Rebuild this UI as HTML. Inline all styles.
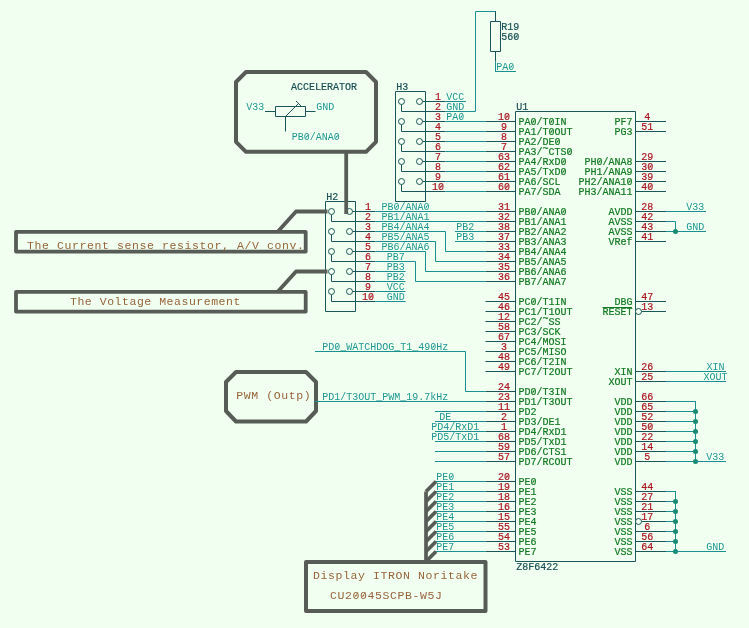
<!DOCTYPE html>
<html><head><meta charset="utf-8"><title>Schematic</title>
<style>
html,body{margin:0;padding:0;background:#f0fff0;}
body{width:749px;height:628px;overflow:hidden;}
svg{display:block;will-change:transform;transform:translateZ(0);}
text{font-family:"Liberation Mono",monospace;white-space:pre;}
.t{font-size:10px;stroke-width:0.2px;}
.b{font-size:11.5px;letter-spacing:0.6px;stroke-width:0px;}
</style></head><body>
<svg width="749" height="628" viewBox="0 0 749 628">
<rect x="0" y="0" width="749" height="628" fill="#f0fff0"/>
<rect x="515.5" y="111.5" width="120" height="450" fill="none" stroke="#1b5658" stroke-width="1" stroke-linejoin="round"/>
<text x="516.3" y="110" fill="#1b5054" stroke="#1b5054" text-anchor="start" class="t">U1</text>
<text x="516.3" y="570" fill="#1b5054" stroke="#1b5054" text-anchor="start" class="t">Z8F6422</text>
<line x1="485.5" y1="121.5" x2="515.5" y2="121.5" stroke="#1b5658" stroke-width="1"/>
<line x1="505.75" y1="118.60" x2="508.25" y2="114.80" stroke="#aa1622" stroke-width="0.7"/>
<text x="504" y="120" fill="#aa1622" stroke="#aa1622" text-anchor="middle" class="t">10</text>
<line x1="532.25" y1="123.40" x2="534.75" y2="119.60" stroke="#137a22" stroke-width="0.7"/>
<line x1="550.25" y1="123.40" x2="552.75" y2="119.60" stroke="#137a22" stroke-width="0.7"/>
<text x="518.5" y="124.8" fill="#137a22" stroke="#137a22" text-anchor="start" class="t">PA0/T0IN</text>
<line x1="485.5" y1="131.5" x2="515.5" y2="131.5" stroke="#1b5658" stroke-width="1"/>
<text x="504" y="130" fill="#aa1622" stroke="#aa1622" text-anchor="middle" class="t">9</text>
<line x1="550.25" y1="133.40" x2="552.75" y2="129.60" stroke="#137a22" stroke-width="0.7"/>
<text x="518.5" y="134.8" fill="#137a22" stroke="#137a22" text-anchor="start" class="t">PA1/T0OUT</text>
<line x1="485.5" y1="141.5" x2="515.5" y2="141.5" stroke="#1b5658" stroke-width="1"/>
<text x="504" y="140" fill="#aa1622" stroke="#aa1622" text-anchor="middle" class="t">8</text>
<line x1="556.25" y1="143.40" x2="558.75" y2="139.60" stroke="#137a22" stroke-width="0.7"/>
<text x="518.5" y="144.8" fill="#137a22" stroke="#137a22" text-anchor="start" class="t">PA2/DE0</text>
<line x1="485.5" y1="151.5" x2="515.5" y2="151.5" stroke="#1b5658" stroke-width="1"/>
<text x="504" y="150" fill="#aa1622" stroke="#aa1622" text-anchor="middle" class="t">7</text>
<line x1="568.25" y1="153.40" x2="570.75" y2="149.60" stroke="#137a22" stroke-width="0.7"/>
<text x="518.5" y="154.8" fill="#137a22" stroke="#137a22" text-anchor="start" class="t">PA3/<tspan dy="-2.6">~</tspan><tspan dy="2.6">CTS0</tspan></text>
<line x1="485.5" y1="161.5" x2="515.5" y2="161.5" stroke="#1b5658" stroke-width="1"/>
<text x="504" y="160" fill="#aa1622" stroke="#aa1622" text-anchor="middle" class="t">63</text>
<line x1="562.25" y1="163.40" x2="564.75" y2="159.60" stroke="#137a22" stroke-width="0.7"/>
<text x="518.5" y="164.8" fill="#137a22" stroke="#137a22" text-anchor="start" class="t">PA4/RxD0</text>
<line x1="485.5" y1="171.5" x2="515.5" y2="171.5" stroke="#1b5658" stroke-width="1"/>
<text x="504" y="170" fill="#aa1622" stroke="#aa1622" text-anchor="middle" class="t">62</text>
<line x1="562.25" y1="173.40" x2="564.75" y2="169.60" stroke="#137a22" stroke-width="0.7"/>
<text x="518.5" y="174.8" fill="#137a22" stroke="#137a22" text-anchor="start" class="t">PA5/TxD0</text>
<line x1="485.5" y1="181.5" x2="515.5" y2="181.5" stroke="#1b5658" stroke-width="1"/>
<text x="504" y="180" fill="#aa1622" stroke="#aa1622" text-anchor="middle" class="t">61</text>
<text x="518.5" y="184.8" fill="#137a22" stroke="#137a22" text-anchor="start" class="t">PA6/SCL</text>
<line x1="485.5" y1="191.5" x2="515.5" y2="191.5" stroke="#1b5658" stroke-width="1"/>
<line x1="505.75" y1="188.60" x2="508.25" y2="184.80" stroke="#aa1622" stroke-width="0.7"/>
<text x="504" y="190" fill="#aa1622" stroke="#aa1622" text-anchor="middle" class="t">60</text>
<text x="518.5" y="194.8" fill="#137a22" stroke="#137a22" text-anchor="start" class="t">PA7/SDA</text>
<line x1="485.5" y1="211.5" x2="515.5" y2="211.5" stroke="#1b5658" stroke-width="1"/>
<text x="504" y="210" fill="#aa1622" stroke="#aa1622" text-anchor="middle" class="t">31</text>
<line x1="532.25" y1="213.40" x2="534.75" y2="209.60" stroke="#137a22" stroke-width="0.7"/>
<line x1="562.25" y1="213.40" x2="564.75" y2="209.60" stroke="#137a22" stroke-width="0.7"/>
<text x="518.5" y="214.8" fill="#137a22" stroke="#137a22" text-anchor="start" class="t">PB0/ANA0</text>
<line x1="485.5" y1="221.5" x2="515.5" y2="221.5" stroke="#1b5658" stroke-width="1"/>
<text x="504" y="220" fill="#aa1622" stroke="#aa1622" text-anchor="middle" class="t">32</text>
<text x="518.5" y="224.8" fill="#137a22" stroke="#137a22" text-anchor="start" class="t">PB1/ANA1</text>
<line x1="485.5" y1="231.5" x2="515.5" y2="231.5" stroke="#1b5658" stroke-width="1"/>
<text x="504" y="230" fill="#aa1622" stroke="#aa1622" text-anchor="middle" class="t">38</text>
<text x="518.5" y="234.8" fill="#137a22" stroke="#137a22" text-anchor="start" class="t">PB2/ANA2</text>
<line x1="485.5" y1="241.5" x2="515.5" y2="241.5" stroke="#1b5658" stroke-width="1"/>
<text x="504" y="240" fill="#aa1622" stroke="#aa1622" text-anchor="middle" class="t">37</text>
<text x="518.5" y="244.8" fill="#137a22" stroke="#137a22" text-anchor="start" class="t">PB3/ANA3</text>
<line x1="485.5" y1="251.5" x2="515.5" y2="251.5" stroke="#1b5658" stroke-width="1"/>
<text x="504" y="250" fill="#aa1622" stroke="#aa1622" text-anchor="middle" class="t">33</text>
<text x="518.5" y="254.8" fill="#137a22" stroke="#137a22" text-anchor="start" class="t">PB4/ANA4</text>
<line x1="485.5" y1="261.5" x2="515.5" y2="261.5" stroke="#1b5658" stroke-width="1"/>
<text x="504" y="260" fill="#aa1622" stroke="#aa1622" text-anchor="middle" class="t">34</text>
<text x="518.5" y="264.8" fill="#137a22" stroke="#137a22" text-anchor="start" class="t">PB5/ANA5</text>
<line x1="485.5" y1="271.5" x2="515.5" y2="271.5" stroke="#1b5658" stroke-width="1"/>
<text x="504" y="270" fill="#aa1622" stroke="#aa1622" text-anchor="middle" class="t">35</text>
<text x="518.5" y="274.8" fill="#137a22" stroke="#137a22" text-anchor="start" class="t">PB6/ANA6</text>
<line x1="485.5" y1="281.5" x2="515.5" y2="281.5" stroke="#1b5658" stroke-width="1"/>
<text x="504" y="280" fill="#aa1622" stroke="#aa1622" text-anchor="middle" class="t">36</text>
<text x="518.5" y="284.8" fill="#137a22" stroke="#137a22" text-anchor="start" class="t">PB7/ANA7</text>
<line x1="485.5" y1="301.5" x2="515.5" y2="301.5" stroke="#1b5658" stroke-width="1"/>
<text x="504" y="300" fill="#aa1622" stroke="#aa1622" text-anchor="middle" class="t">45</text>
<line x1="532.25" y1="303.40" x2="534.75" y2="299.60" stroke="#137a22" stroke-width="0.7"/>
<text x="518.5" y="304.8" fill="#137a22" stroke="#137a22" text-anchor="start" class="t">PC0/T1IN</text>
<line x1="485.5" y1="311.5" x2="515.5" y2="311.5" stroke="#1b5658" stroke-width="1"/>
<text x="504" y="310" fill="#aa1622" stroke="#aa1622" text-anchor="middle" class="t">46</text>
<text x="518.5" y="314.8" fill="#137a22" stroke="#137a22" text-anchor="start" class="t">PC1/T1OUT</text>
<line x1="485.5" y1="321.5" x2="515.5" y2="321.5" stroke="#1b5658" stroke-width="1"/>
<text x="504" y="320" fill="#aa1622" stroke="#aa1622" text-anchor="middle" class="t">12</text>
<text x="518.5" y="324.8" fill="#137a22" stroke="#137a22" text-anchor="start" class="t">PC2/<tspan dy="-2.6">~</tspan><tspan dy="2.6">SS</tspan></text>
<line x1="485.5" y1="331.5" x2="515.5" y2="331.5" stroke="#1b5658" stroke-width="1"/>
<text x="504" y="330" fill="#aa1622" stroke="#aa1622" text-anchor="middle" class="t">58</text>
<text x="518.5" y="334.8" fill="#137a22" stroke="#137a22" text-anchor="start" class="t">PC3/SCK</text>
<line x1="485.5" y1="341.5" x2="515.5" y2="341.5" stroke="#1b5658" stroke-width="1"/>
<text x="504" y="340" fill="#aa1622" stroke="#aa1622" text-anchor="middle" class="t">67</text>
<text x="518.5" y="344.8" fill="#137a22" stroke="#137a22" text-anchor="start" class="t">PC4/MOSI</text>
<line x1="485.5" y1="351.5" x2="515.5" y2="351.5" stroke="#1b5658" stroke-width="1"/>
<text x="504" y="350" fill="#aa1622" stroke="#aa1622" text-anchor="middle" class="t">3</text>
<text x="518.5" y="354.8" fill="#137a22" stroke="#137a22" text-anchor="start" class="t">PC5/MISO</text>
<line x1="485.5" y1="361.5" x2="515.5" y2="361.5" stroke="#1b5658" stroke-width="1"/>
<text x="504" y="360" fill="#aa1622" stroke="#aa1622" text-anchor="middle" class="t">48</text>
<text x="518.5" y="364.8" fill="#137a22" stroke="#137a22" text-anchor="start" class="t">PC6/T2IN</text>
<line x1="485.5" y1="371.5" x2="515.5" y2="371.5" stroke="#1b5658" stroke-width="1"/>
<text x="504" y="370" fill="#aa1622" stroke="#aa1622" text-anchor="middle" class="t">49</text>
<text x="518.5" y="374.8" fill="#137a22" stroke="#137a22" text-anchor="start" class="t">PC7/T2OUT</text>
<line x1="485.5" y1="391.5" x2="515.5" y2="391.5" stroke="#1b5658" stroke-width="1"/>
<text x="504" y="390" fill="#aa1622" stroke="#aa1622" text-anchor="middle" class="t">24</text>
<line x1="532.25" y1="393.40" x2="534.75" y2="389.60" stroke="#137a22" stroke-width="0.7"/>
<text x="518.5" y="394.8" fill="#137a22" stroke="#137a22" text-anchor="start" class="t">PD0/T3IN</text>
<line x1="485.5" y1="401.5" x2="515.5" y2="401.5" stroke="#1b5658" stroke-width="1"/>
<text x="504" y="400" fill="#aa1622" stroke="#aa1622" text-anchor="middle" class="t">23</text>
<text x="518.5" y="404.8" fill="#137a22" stroke="#137a22" text-anchor="start" class="t">PD1/T3OUT</text>
<line x1="485.5" y1="411.5" x2="515.5" y2="411.5" stroke="#1b5658" stroke-width="1"/>
<text x="504" y="410" fill="#aa1622" stroke="#aa1622" text-anchor="middle" class="t">11</text>
<text x="518.5" y="414.8" fill="#137a22" stroke="#137a22" text-anchor="start" class="t">PD2</text>
<line x1="485.5" y1="421.5" x2="515.5" y2="421.5" stroke="#1b5658" stroke-width="1"/>
<text x="504" y="420" fill="#aa1622" stroke="#aa1622" text-anchor="middle" class="t">2</text>
<text x="518.5" y="424.8" fill="#137a22" stroke="#137a22" text-anchor="start" class="t">PD3/DE1</text>
<line x1="485.5" y1="431.5" x2="515.5" y2="431.5" stroke="#1b5658" stroke-width="1"/>
<text x="504" y="430" fill="#aa1622" stroke="#aa1622" text-anchor="middle" class="t">1</text>
<text x="518.5" y="434.8" fill="#137a22" stroke="#137a22" text-anchor="start" class="t">PD4/RxD1</text>
<line x1="485.5" y1="441.5" x2="515.5" y2="441.5" stroke="#1b5658" stroke-width="1"/>
<text x="504" y="440" fill="#aa1622" stroke="#aa1622" text-anchor="middle" class="t">68</text>
<text x="518.5" y="444.8" fill="#137a22" stroke="#137a22" text-anchor="start" class="t">PD5/TxD1</text>
<line x1="485.5" y1="451.5" x2="515.5" y2="451.5" stroke="#1b5658" stroke-width="1"/>
<text x="504" y="450" fill="#aa1622" stroke="#aa1622" text-anchor="middle" class="t">59</text>
<text x="518.5" y="454.8" fill="#137a22" stroke="#137a22" text-anchor="start" class="t">PD6/CTS1</text>
<line x1="485.5" y1="461.5" x2="515.5" y2="461.5" stroke="#1b5658" stroke-width="1"/>
<text x="504" y="460" fill="#aa1622" stroke="#aa1622" text-anchor="middle" class="t">57</text>
<text x="518.5" y="464.8" fill="#137a22" stroke="#137a22" text-anchor="start" class="t">PD7/RCOUT</text>
<line x1="485.5" y1="481.5" x2="515.5" y2="481.5" stroke="#1b5658" stroke-width="1"/>
<line x1="505.75" y1="478.60" x2="508.25" y2="474.80" stroke="#aa1622" stroke-width="0.7"/>
<text x="504" y="480" fill="#aa1622" stroke="#aa1622" text-anchor="middle" class="t">20</text>
<line x1="532.25" y1="483.40" x2="534.75" y2="479.60" stroke="#137a22" stroke-width="0.7"/>
<text x="518.5" y="484.8" fill="#137a22" stroke="#137a22" text-anchor="start" class="t">PE0</text>
<line x1="485.5" y1="491.5" x2="515.5" y2="491.5" stroke="#1b5658" stroke-width="1"/>
<text x="504" y="490" fill="#aa1622" stroke="#aa1622" text-anchor="middle" class="t">19</text>
<text x="518.5" y="494.8" fill="#137a22" stroke="#137a22" text-anchor="start" class="t">PE1</text>
<line x1="485.5" y1="501.5" x2="515.5" y2="501.5" stroke="#1b5658" stroke-width="1"/>
<text x="504" y="500" fill="#aa1622" stroke="#aa1622" text-anchor="middle" class="t">18</text>
<text x="518.5" y="504.8" fill="#137a22" stroke="#137a22" text-anchor="start" class="t">PE2</text>
<line x1="485.5" y1="511.5" x2="515.5" y2="511.5" stroke="#1b5658" stroke-width="1"/>
<text x="504" y="510" fill="#aa1622" stroke="#aa1622" text-anchor="middle" class="t">16</text>
<text x="518.5" y="514.8" fill="#137a22" stroke="#137a22" text-anchor="start" class="t">PE3</text>
<line x1="485.5" y1="521.5" x2="515.5" y2="521.5" stroke="#1b5658" stroke-width="1"/>
<text x="504" y="520" fill="#aa1622" stroke="#aa1622" text-anchor="middle" class="t">15</text>
<text x="518.5" y="524.8" fill="#137a22" stroke="#137a22" text-anchor="start" class="t">PE4</text>
<line x1="485.5" y1="531.5" x2="515.5" y2="531.5" stroke="#1b5658" stroke-width="1"/>
<text x="504" y="530" fill="#aa1622" stroke="#aa1622" text-anchor="middle" class="t">55</text>
<text x="518.5" y="534.8" fill="#137a22" stroke="#137a22" text-anchor="start" class="t">PE5</text>
<line x1="485.5" y1="541.5" x2="515.5" y2="541.5" stroke="#1b5658" stroke-width="1"/>
<text x="504" y="540" fill="#aa1622" stroke="#aa1622" text-anchor="middle" class="t">54</text>
<text x="518.5" y="544.8" fill="#137a22" stroke="#137a22" text-anchor="start" class="t">PE6</text>
<line x1="485.5" y1="551.5" x2="515.5" y2="551.5" stroke="#1b5658" stroke-width="1"/>
<text x="504" y="550" fill="#aa1622" stroke="#aa1622" text-anchor="middle" class="t">53</text>
<text x="518.5" y="554.8" fill="#137a22" stroke="#137a22" text-anchor="start" class="t">PE7</text>
<line x1="635.5" y1="121.5" x2="666" y2="121.5" stroke="#1b5658" stroke-width="1"/>
<text x="647.3" y="120" fill="#aa1622" stroke="#aa1622" text-anchor="middle" class="t">4</text>
<text x="632.5" y="124.8" fill="#137a22" stroke="#137a22" text-anchor="end" class="t">PF7</text>
<line x1="635.5" y1="131.5" x2="666" y2="131.5" stroke="#1b5658" stroke-width="1"/>
<text x="647.3" y="130" fill="#aa1622" stroke="#aa1622" text-anchor="middle" class="t">51</text>
<text x="632.5" y="134.8" fill="#137a22" stroke="#137a22" text-anchor="end" class="t">PG3</text>
<line x1="635.5" y1="161.5" x2="666" y2="161.5" stroke="#1b5658" stroke-width="1"/>
<text x="647.3" y="160" fill="#aa1622" stroke="#aa1622" text-anchor="middle" class="t">29</text>
<line x1="598.25" y1="163.40" x2="600.75" y2="159.60" stroke="#137a22" stroke-width="0.7"/>
<text x="632.5" y="164.8" fill="#137a22" stroke="#137a22" text-anchor="end" class="t">PH0/ANA8</text>
<line x1="635.5" y1="171.5" x2="666" y2="171.5" stroke="#1b5658" stroke-width="1"/>
<line x1="649.05" y1="168.60" x2="651.55" y2="164.80" stroke="#aa1622" stroke-width="0.7"/>
<text x="647.3" y="170" fill="#aa1622" stroke="#aa1622" text-anchor="middle" class="t">30</text>
<text x="632.5" y="174.8" fill="#137a22" stroke="#137a22" text-anchor="end" class="t">PH1/ANA9</text>
<line x1="635.5" y1="181.5" x2="666" y2="181.5" stroke="#1b5658" stroke-width="1"/>
<text x="647.3" y="180" fill="#aa1622" stroke="#aa1622" text-anchor="middle" class="t">39</text>
<line x1="628.25" y1="183.40" x2="630.75" y2="179.60" stroke="#137a22" stroke-width="0.7"/>
<text x="632.5" y="184.8" fill="#137a22" stroke="#137a22" text-anchor="end" class="t">PH2/ANA10</text>
<line x1="635.5" y1="191.5" x2="666" y2="191.5" stroke="#1b5658" stroke-width="1"/>
<line x1="649.05" y1="188.60" x2="651.55" y2="184.80" stroke="#aa1622" stroke-width="0.7"/>
<text x="647.3" y="190" fill="#aa1622" stroke="#aa1622" text-anchor="middle" class="t">40</text>
<text x="632.5" y="194.8" fill="#137a22" stroke="#137a22" text-anchor="end" class="t">PH3/ANA11</text>
<line x1="635.5" y1="211.5" x2="666" y2="211.5" stroke="#1b5658" stroke-width="1"/>
<text x="647.3" y="210" fill="#aa1622" stroke="#aa1622" text-anchor="middle" class="t">28</text>
<text x="632.5" y="214.8" fill="#137a22" stroke="#137a22" text-anchor="end" class="t">AVDD</text>
<line x1="635.5" y1="221.5" x2="666" y2="221.5" stroke="#1b5658" stroke-width="1"/>
<text x="647.3" y="220" fill="#aa1622" stroke="#aa1622" text-anchor="middle" class="t">42</text>
<text x="632.5" y="224.8" fill="#137a22" stroke="#137a22" text-anchor="end" class="t">AVSS</text>
<line x1="635.5" y1="231.5" x2="666" y2="231.5" stroke="#1b5658" stroke-width="1"/>
<text x="647.3" y="230" fill="#aa1622" stroke="#aa1622" text-anchor="middle" class="t">43</text>
<text x="632.5" y="234.8" fill="#137a22" stroke="#137a22" text-anchor="end" class="t">AVSS</text>
<line x1="635.5" y1="241.5" x2="666" y2="241.5" stroke="#1b5658" stroke-width="1"/>
<text x="647.3" y="240" fill="#aa1622" stroke="#aa1622" text-anchor="middle" class="t">41</text>
<text x="632.5" y="244.8" fill="#137a22" stroke="#137a22" text-anchor="end" class="t">VRef</text>
<line x1="635.5" y1="301.5" x2="666" y2="301.5" stroke="#1b5658" stroke-width="1"/>
<text x="647.3" y="300" fill="#aa1622" stroke="#aa1622" text-anchor="middle" class="t">47</text>
<text x="632.5" y="304.8" fill="#137a22" stroke="#137a22" text-anchor="end" class="t">DBG</text>
<line x1="641.5" y1="311.5" x2="666" y2="311.5" stroke="#1b5658" stroke-width="1"/>
<text x="647.3" y="310" fill="#aa1622" stroke="#aa1622" text-anchor="middle" class="t">13</text>
<text x="632.5" y="314.8" fill="#137a22" stroke="#137a22" text-anchor="end" class="t">RESET</text>
<line x1="635.5" y1="371.5" x2="666" y2="371.5" stroke="#1b5658" stroke-width="1"/>
<text x="647.3" y="370" fill="#aa1622" stroke="#aa1622" text-anchor="middle" class="t">26</text>
<text x="632.5" y="374.8" fill="#137a22" stroke="#137a22" text-anchor="end" class="t">XIN</text>
<line x1="635.5" y1="381.5" x2="666" y2="381.5" stroke="#1b5658" stroke-width="1"/>
<text x="647.3" y="380" fill="#aa1622" stroke="#aa1622" text-anchor="middle" class="t">25</text>
<text x="632.5" y="384.8" fill="#137a22" stroke="#137a22" text-anchor="end" class="t">XOUT</text>
<line x1="635.5" y1="401.5" x2="666" y2="401.5" stroke="#1b5658" stroke-width="1"/>
<text x="647.3" y="400" fill="#aa1622" stroke="#aa1622" text-anchor="middle" class="t">66</text>
<text x="632.5" y="404.8" fill="#137a22" stroke="#137a22" text-anchor="end" class="t">VDD</text>
<line x1="635.5" y1="411.5" x2="666" y2="411.5" stroke="#1b5658" stroke-width="1"/>
<text x="647.3" y="410" fill="#aa1622" stroke="#aa1622" text-anchor="middle" class="t">65</text>
<text x="632.5" y="414.8" fill="#137a22" stroke="#137a22" text-anchor="end" class="t">VDD</text>
<line x1="635.5" y1="421.5" x2="666" y2="421.5" stroke="#1b5658" stroke-width="1"/>
<text x="647.3" y="420" fill="#aa1622" stroke="#aa1622" text-anchor="middle" class="t">52</text>
<text x="632.5" y="424.8" fill="#137a22" stroke="#137a22" text-anchor="end" class="t">VDD</text>
<line x1="635.5" y1="431.5" x2="666" y2="431.5" stroke="#1b5658" stroke-width="1"/>
<line x1="649.05" y1="428.60" x2="651.55" y2="424.80" stroke="#aa1622" stroke-width="0.7"/>
<text x="647.3" y="430" fill="#aa1622" stroke="#aa1622" text-anchor="middle" class="t">50</text>
<text x="632.5" y="434.8" fill="#137a22" stroke="#137a22" text-anchor="end" class="t">VDD</text>
<line x1="635.5" y1="441.5" x2="666" y2="441.5" stroke="#1b5658" stroke-width="1"/>
<text x="647.3" y="440" fill="#aa1622" stroke="#aa1622" text-anchor="middle" class="t">22</text>
<text x="632.5" y="444.8" fill="#137a22" stroke="#137a22" text-anchor="end" class="t">VDD</text>
<line x1="635.5" y1="451.5" x2="666" y2="451.5" stroke="#1b5658" stroke-width="1"/>
<text x="647.3" y="450" fill="#aa1622" stroke="#aa1622" text-anchor="middle" class="t">14</text>
<text x="632.5" y="454.8" fill="#137a22" stroke="#137a22" text-anchor="end" class="t">VDD</text>
<line x1="635.5" y1="461.5" x2="666" y2="461.5" stroke="#1b5658" stroke-width="1"/>
<text x="647.3" y="460" fill="#aa1622" stroke="#aa1622" text-anchor="middle" class="t">5</text>
<text x="632.5" y="464.8" fill="#137a22" stroke="#137a22" text-anchor="end" class="t">VDD</text>
<line x1="635.5" y1="491.5" x2="666" y2="491.5" stroke="#1b5658" stroke-width="1"/>
<text x="647.3" y="490" fill="#aa1622" stroke="#aa1622" text-anchor="middle" class="t">44</text>
<text x="632.5" y="494.8" fill="#137a22" stroke="#137a22" text-anchor="end" class="t">VSS</text>
<line x1="635.5" y1="501.5" x2="666" y2="501.5" stroke="#1b5658" stroke-width="1"/>
<text x="647.3" y="500" fill="#aa1622" stroke="#aa1622" text-anchor="middle" class="t">27</text>
<text x="632.5" y="504.8" fill="#137a22" stroke="#137a22" text-anchor="end" class="t">VSS</text>
<line x1="635.5" y1="511.5" x2="666" y2="511.5" stroke="#1b5658" stroke-width="1"/>
<text x="647.3" y="510" fill="#aa1622" stroke="#aa1622" text-anchor="middle" class="t">21</text>
<text x="632.5" y="514.8" fill="#137a22" stroke="#137a22" text-anchor="end" class="t">VSS</text>
<line x1="641.5" y1="521.5" x2="666" y2="521.5" stroke="#1b5658" stroke-width="1"/>
<text x="647.3" y="520" fill="#aa1622" stroke="#aa1622" text-anchor="middle" class="t">17</text>
<text x="632.5" y="524.8" fill="#137a22" stroke="#137a22" text-anchor="end" class="t">VSS</text>
<line x1="635.5" y1="531.5" x2="666" y2="531.5" stroke="#1b5658" stroke-width="1"/>
<text x="647.3" y="530" fill="#aa1622" stroke="#aa1622" text-anchor="middle" class="t">6</text>
<text x="632.5" y="534.8" fill="#137a22" stroke="#137a22" text-anchor="end" class="t">VSS</text>
<line x1="635.5" y1="541.5" x2="666" y2="541.5" stroke="#1b5658" stroke-width="1"/>
<text x="647.3" y="540" fill="#aa1622" stroke="#aa1622" text-anchor="middle" class="t">56</text>
<text x="632.5" y="544.8" fill="#137a22" stroke="#137a22" text-anchor="end" class="t">VSS</text>
<line x1="635.5" y1="551.5" x2="666" y2="551.5" stroke="#1b5658" stroke-width="1"/>
<text x="647.3" y="550" fill="#aa1622" stroke="#aa1622" text-anchor="middle" class="t">64</text>
<text x="632.5" y="554.8" fill="#137a22" stroke="#137a22" text-anchor="end" class="t">VSS</text>
<circle cx="638.5" cy="311.5" r="3" fill="#f0fff0" stroke="#1b5658" stroke-width="1"/>
<circle cx="638.5" cy="521.5" r="3" fill="#f0fff0" stroke="#1b5658" stroke-width="1"/>
<line x1="602.5" y1="307.5" x2="632" y2="307.5" stroke="#137a22" stroke-width="1"/>
<line x1="666" y1="211.5" x2="706" y2="211.5" stroke="#1a9090" stroke-width="1"/>
<text x="686.3" y="210" fill="#1f9892" text-anchor="start" class="t">V33</text>
<polyline points="666,221.5 675.5,221.5 675.5,231.5" fill="none" stroke="#1a9090" stroke-width="1" stroke-linejoin="round" />
<line x1="666" y1="231.5" x2="706" y2="231.5" stroke="#1a9090" stroke-width="1"/>
<text x="686.3" y="230" fill="#1f9892" text-anchor="start" class="t">GND</text>
<circle cx="675.5" cy="231.5" r="2.5" fill="#168a70" stroke="#168a70" stroke-width="0"/>
<line x1="666" y1="371.5" x2="726" y2="371.5" stroke="#1a9090" stroke-width="1"/>
<text x="715.6" y="370" fill="#1f9892" text-anchor="middle" class="t">XIN</text>
<line x1="666" y1="381.5" x2="726" y2="381.5" stroke="#1a9090" stroke-width="1"/>
<text x="715.4" y="380" fill="#1f9892" text-anchor="middle" class="t">XOUT</text>
<line x1="666" y1="401.5" x2="695.5" y2="401.5" stroke="#1a9090" stroke-width="1"/>
<line x1="666" y1="411.5" x2="695.5" y2="411.5" stroke="#1a9090" stroke-width="1"/>
<line x1="666" y1="421.5" x2="695.5" y2="421.5" stroke="#1a9090" stroke-width="1"/>
<line x1="666" y1="431.5" x2="695.5" y2="431.5" stroke="#1a9090" stroke-width="1"/>
<line x1="666" y1="441.5" x2="695.5" y2="441.5" stroke="#1a9090" stroke-width="1"/>
<line x1="666" y1="451.5" x2="695.5" y2="451.5" stroke="#1a9090" stroke-width="1"/>
<line x1="666" y1="461.5" x2="695.5" y2="461.5" stroke="#1a9090" stroke-width="1"/>
<line x1="695.5" y1="401" x2="695.5" y2="462" stroke="#1a9090" stroke-width="1"/>
<circle cx="695.5" cy="411.5" r="2.5" fill="#168a70" stroke="#168a70" stroke-width="0"/>
<circle cx="695.5" cy="421.5" r="2.5" fill="#168a70" stroke="#168a70" stroke-width="0"/>
<circle cx="695.5" cy="431.5" r="2.5" fill="#168a70" stroke="#168a70" stroke-width="0"/>
<circle cx="695.5" cy="441.5" r="2.5" fill="#168a70" stroke="#168a70" stroke-width="0"/>
<circle cx="695.5" cy="451.5" r="2.5" fill="#168a70" stroke="#168a70" stroke-width="0"/>
<circle cx="695.5" cy="461.5" r="2.5" fill="#168a70" stroke="#168a70" stroke-width="0"/>
<line x1="695" y1="461.5" x2="726" y2="461.5" stroke="#1a9090" stroke-width="1"/>
<text x="706.3" y="460" fill="#1f9892" text-anchor="start" class="t">V33</text>
<line x1="666" y1="491.5" x2="675.5" y2="491.5" stroke="#1a9090" stroke-width="1"/>
<line x1="666" y1="501.5" x2="675.5" y2="501.5" stroke="#1a9090" stroke-width="1"/>
<line x1="666" y1="511.5" x2="675.5" y2="511.5" stroke="#1a9090" stroke-width="1"/>
<line x1="666" y1="521.5" x2="675.5" y2="521.5" stroke="#1a9090" stroke-width="1"/>
<line x1="666" y1="531.5" x2="675.5" y2="531.5" stroke="#1a9090" stroke-width="1"/>
<line x1="666" y1="541.5" x2="675.5" y2="541.5" stroke="#1a9090" stroke-width="1"/>
<line x1="666" y1="551.5" x2="675.5" y2="551.5" stroke="#1a9090" stroke-width="1"/>
<line x1="675.5" y1="491" x2="675.5" y2="552" stroke="#1a9090" stroke-width="1"/>
<circle cx="675.5" cy="501.5" r="2.5" fill="#168a70" stroke="#168a70" stroke-width="0"/>
<circle cx="675.5" cy="511.5" r="2.5" fill="#168a70" stroke="#168a70" stroke-width="0"/>
<circle cx="675.5" cy="521.5" r="2.5" fill="#168a70" stroke="#168a70" stroke-width="0"/>
<circle cx="675.5" cy="531.5" r="2.5" fill="#168a70" stroke="#168a70" stroke-width="0"/>
<circle cx="675.5" cy="541.5" r="2.5" fill="#168a70" stroke="#168a70" stroke-width="0"/>
<circle cx="675.5" cy="551.5" r="2.5" fill="#168a70" stroke="#168a70" stroke-width="0"/>
<line x1="675" y1="551.5" x2="726" y2="551.5" stroke="#1a9090" stroke-width="1"/>
<text x="706.3" y="550" fill="#1f9892" text-anchor="start" class="t">GND</text>
<rect x="395.5" y="91.5" width="30" height="110" fill="none" stroke="#1b5658" stroke-width="1" stroke-linejoin="round"/>
<text x="396.3" y="90" fill="#1b5054" stroke="#1b5054" text-anchor="start" class="t">H3</text>
<line x1="422.5" y1="101.5" x2="445.5" y2="101.5" stroke="#1b5658" stroke-width="1"/>
<polyline points="401.5,104.5 401.5,111.5 445.5,111.5" fill="none" stroke="#1b5658" stroke-width="1" stroke-linejoin="round" />
<circle cx="401.5" cy="101.5" r="3" fill="#f0fff0" stroke="#1b5658" stroke-width="1"/>
<circle cx="419.5" cy="101.5" r="3" fill="#f0fff0" stroke="#1b5658" stroke-width="1"/>
<line x1="422.5" y1="121.5" x2="445.5" y2="121.5" stroke="#1b5658" stroke-width="1"/>
<polyline points="401.5,124.5 401.5,131.5 445.5,131.5" fill="none" stroke="#1b5658" stroke-width="1" stroke-linejoin="round" />
<circle cx="401.5" cy="121.5" r="3" fill="#f0fff0" stroke="#1b5658" stroke-width="1"/>
<circle cx="419.5" cy="121.5" r="3" fill="#f0fff0" stroke="#1b5658" stroke-width="1"/>
<line x1="422.5" y1="141.5" x2="445.5" y2="141.5" stroke="#1b5658" stroke-width="1"/>
<polyline points="401.5,144.5 401.5,151.5 445.5,151.5" fill="none" stroke="#1b5658" stroke-width="1" stroke-linejoin="round" />
<circle cx="401.5" cy="141.5" r="3" fill="#f0fff0" stroke="#1b5658" stroke-width="1"/>
<circle cx="419.5" cy="141.5" r="3" fill="#f0fff0" stroke="#1b5658" stroke-width="1"/>
<line x1="422.5" y1="161.5" x2="445.5" y2="161.5" stroke="#1b5658" stroke-width="1"/>
<polyline points="401.5,164.5 401.5,171.5 445.5,171.5" fill="none" stroke="#1b5658" stroke-width="1" stroke-linejoin="round" />
<circle cx="401.5" cy="161.5" r="3" fill="#f0fff0" stroke="#1b5658" stroke-width="1"/>
<circle cx="419.5" cy="161.5" r="3" fill="#f0fff0" stroke="#1b5658" stroke-width="1"/>
<line x1="422.5" y1="181.5" x2="445.5" y2="181.5" stroke="#1b5658" stroke-width="1"/>
<polyline points="401.5,184.5 401.5,191.5 445.5,191.5" fill="none" stroke="#1b5658" stroke-width="1" stroke-linejoin="round" />
<circle cx="401.5" cy="181.5" r="3" fill="#f0fff0" stroke="#1b5658" stroke-width="1"/>
<circle cx="419.5" cy="181.5" r="3" fill="#f0fff0" stroke="#1b5658" stroke-width="1"/>
<text x="438" y="100" fill="#aa1622" stroke="#aa1622" text-anchor="middle" class="t">1</text>
<text x="438" y="110" fill="#aa1622" stroke="#aa1622" text-anchor="middle" class="t">2</text>
<text x="438" y="120" fill="#aa1622" stroke="#aa1622" text-anchor="middle" class="t">3</text>
<text x="438" y="130" fill="#aa1622" stroke="#aa1622" text-anchor="middle" class="t">4</text>
<text x="438" y="140" fill="#aa1622" stroke="#aa1622" text-anchor="middle" class="t">5</text>
<text x="438" y="150" fill="#aa1622" stroke="#aa1622" text-anchor="middle" class="t">6</text>
<text x="438" y="160" fill="#aa1622" stroke="#aa1622" text-anchor="middle" class="t">7</text>
<text x="438" y="170" fill="#aa1622" stroke="#aa1622" text-anchor="middle" class="t">8</text>
<text x="438" y="180" fill="#aa1622" stroke="#aa1622" text-anchor="middle" class="t">9</text>
<line x1="439.75" y1="188.60" x2="442.25" y2="184.80" stroke="#aa1622" stroke-width="0.7"/>
<text x="438" y="190" fill="#aa1622" stroke="#aa1622" text-anchor="middle" class="t">10</text>
<line x1="445.5" y1="101.5" x2="466" y2="101.5" stroke="#1a9090" stroke-width="1"/>
<text x="446.3" y="100" fill="#1f9892" text-anchor="start" class="t">VCC</text>
<polyline points="445.5,111.5 475.5,111.5 475.5,11.5 496,11.5" fill="none" stroke="#1a9090" stroke-width="1" stroke-linejoin="round" />
<line x1="495.5" y1="11" x2="495.5" y2="21.5" stroke="#1b5658" stroke-width="1"/>
<text x="446.3" y="110" fill="#1f9892" text-anchor="start" class="t">GND</text>
<line x1="460.05" y1="118.60" x2="462.55" y2="114.80" stroke="#1f9892" stroke-width="0.7"/>
<text x="446.3" y="120" fill="#1f9892" text-anchor="start" class="t">PA0</text>
<line x1="445.5" y1="121.5" x2="485.5" y2="121.5" stroke="#1a9090" stroke-width="1"/>
<line x1="445.5" y1="131.5" x2="485.5" y2="131.5" stroke="#1a9090" stroke-width="1"/>
<line x1="445.5" y1="141.5" x2="485.5" y2="141.5" stroke="#1a9090" stroke-width="1"/>
<line x1="445.5" y1="151.5" x2="485.5" y2="151.5" stroke="#1a9090" stroke-width="1"/>
<line x1="445.5" y1="161.5" x2="485.5" y2="161.5" stroke="#1a9090" stroke-width="1"/>
<line x1="445.5" y1="171.5" x2="485.5" y2="171.5" stroke="#1a9090" stroke-width="1"/>
<line x1="445.5" y1="181.5" x2="485.5" y2="181.5" stroke="#1a9090" stroke-width="1"/>
<line x1="445.5" y1="191.5" x2="485.5" y2="191.5" stroke="#1a9090" stroke-width="1"/>
<rect x="490.5" y="21.5" width="10" height="30" fill="none" stroke="#1b5658" stroke-width="1" stroke-linejoin="round"/>
<line x1="495.5" y1="51.5" x2="495.5" y2="61.5" stroke="#1b5658" stroke-width="1"/>
<line x1="495.5" y1="61.5" x2="495.5" y2="72" stroke="#1a9090" stroke-width="1"/>
<line x1="495" y1="71.5" x2="516" y2="71.5" stroke="#1a9090" stroke-width="1"/>
<line x1="510.05" y1="68.60" x2="512.55" y2="64.80" stroke="#1f9892" stroke-width="0.7"/>
<text x="496.3" y="70" fill="#1f9892" text-anchor="start" class="t">PA0</text>
<text x="501.3" y="30" fill="#1b5054" stroke="#1b5054" text-anchor="start" class="t">R19</text>
<line x1="515.05" y1="38.60" x2="517.55" y2="34.80" stroke="#1b5054" stroke-width="0.7"/>
<text x="501.3" y="40" fill="#1b5054" stroke="#1b5054" text-anchor="start" class="t">560</text>
<rect x="325.5" y="201.5" width="30" height="110" fill="none" stroke="#1b5658" stroke-width="1" stroke-linejoin="round"/>
<text x="326.3" y="200" fill="#1b5054" stroke="#1b5054" text-anchor="start" class="t">H2</text>
<line x1="352.5" y1="211.5" x2="375.5" y2="211.5" stroke="#1b5658" stroke-width="1"/>
<polyline points="331.5,214.5 331.5,221.5 375.5,221.5" fill="none" stroke="#1b5658" stroke-width="1" stroke-linejoin="round" />
<circle cx="331.5" cy="211.5" r="3" fill="#f0fff0" stroke="#1b5658" stroke-width="1"/>
<circle cx="349.5" cy="211.5" r="3" fill="#f0fff0" stroke="#1b5658" stroke-width="1"/>
<line x1="352.5" y1="231.5" x2="375.5" y2="231.5" stroke="#1b5658" stroke-width="1"/>
<polyline points="331.5,234.5 331.5,241.5 375.5,241.5" fill="none" stroke="#1b5658" stroke-width="1" stroke-linejoin="round" />
<circle cx="331.5" cy="231.5" r="3" fill="#f0fff0" stroke="#1b5658" stroke-width="1"/>
<circle cx="349.5" cy="231.5" r="3" fill="#f0fff0" stroke="#1b5658" stroke-width="1"/>
<line x1="352.5" y1="251.5" x2="375.5" y2="251.5" stroke="#1b5658" stroke-width="1"/>
<polyline points="331.5,254.5 331.5,261.5 375.5,261.5" fill="none" stroke="#1b5658" stroke-width="1" stroke-linejoin="round" />
<circle cx="331.5" cy="251.5" r="3" fill="#f0fff0" stroke="#1b5658" stroke-width="1"/>
<circle cx="349.5" cy="251.5" r="3" fill="#f0fff0" stroke="#1b5658" stroke-width="1"/>
<line x1="352.5" y1="271.5" x2="375.5" y2="271.5" stroke="#1b5658" stroke-width="1"/>
<polyline points="331.5,274.5 331.5,281.5 375.5,281.5" fill="none" stroke="#1b5658" stroke-width="1" stroke-linejoin="round" />
<circle cx="331.5" cy="271.5" r="3" fill="#f0fff0" stroke="#1b5658" stroke-width="1"/>
<circle cx="349.5" cy="271.5" r="3" fill="#f0fff0" stroke="#1b5658" stroke-width="1"/>
<line x1="352.5" y1="291.5" x2="375.5" y2="291.5" stroke="#1b5658" stroke-width="1"/>
<polyline points="331.5,294.5 331.5,301.5 375.5,301.5" fill="none" stroke="#1b5658" stroke-width="1" stroke-linejoin="round" />
<circle cx="331.5" cy="291.5" r="3" fill="#f0fff0" stroke="#1b5658" stroke-width="1"/>
<circle cx="349.5" cy="291.5" r="3" fill="#f0fff0" stroke="#1b5658" stroke-width="1"/>
<text x="368" y="210" fill="#aa1622" stroke="#aa1622" text-anchor="middle" class="t">1</text>
<line x1="395.25" y1="208.60" x2="397.75" y2="204.80" stroke="#1f9892" stroke-width="0.7"/>
<line x1="425.25" y1="208.60" x2="427.75" y2="204.80" stroke="#1f9892" stroke-width="0.7"/>
<text x="381.5" y="210" fill="#1f9892" text-anchor="start" class="t">PB0/ANA0</text>
<text x="368" y="220" fill="#aa1622" stroke="#aa1622" text-anchor="middle" class="t">2</text>
<text x="381.5" y="220" fill="#1f9892" text-anchor="start" class="t">PB1/ANA1</text>
<text x="368" y="230" fill="#aa1622" stroke="#aa1622" text-anchor="middle" class="t">3</text>
<text x="381.5" y="230" fill="#1f9892" text-anchor="start" class="t">PB4/ANA4</text>
<text x="368" y="240" fill="#aa1622" stroke="#aa1622" text-anchor="middle" class="t">4</text>
<text x="381.5" y="240" fill="#1f9892" text-anchor="start" class="t">PB5/ANA5</text>
<text x="368" y="250" fill="#aa1622" stroke="#aa1622" text-anchor="middle" class="t">5</text>
<text x="381.5" y="250" fill="#1f9892" text-anchor="start" class="t">PB6/ANA6</text>
<text x="368" y="260" fill="#aa1622" stroke="#aa1622" text-anchor="middle" class="t">6</text>
<text x="386.7" y="260" fill="#1f9892" text-anchor="start" class="t">PB7</text>
<text x="368" y="270" fill="#aa1622" stroke="#aa1622" text-anchor="middle" class="t">7</text>
<text x="386.7" y="270" fill="#1f9892" text-anchor="start" class="t">PB3</text>
<text x="368" y="280" fill="#aa1622" stroke="#aa1622" text-anchor="middle" class="t">8</text>
<text x="386.7" y="280" fill="#1f9892" text-anchor="start" class="t">PB2</text>
<text x="368" y="290" fill="#aa1622" stroke="#aa1622" text-anchor="middle" class="t">9</text>
<text x="386.7" y="290" fill="#1f9892" text-anchor="start" class="t">VCC</text>
<line x1="369.75" y1="298.60" x2="372.25" y2="294.80" stroke="#aa1622" stroke-width="0.7"/>
<text x="368" y="300" fill="#aa1622" stroke="#aa1622" text-anchor="middle" class="t">10</text>
<text x="386.7" y="300" fill="#1f9892" text-anchor="start" class="t">GND</text>
<line x1="375.5" y1="211.5" x2="485.5" y2="211.5" stroke="#1a9090" stroke-width="1"/>
<line x1="375.5" y1="221.5" x2="485.5" y2="221.5" stroke="#1a9090" stroke-width="1"/>
<polyline points="375.5,231.5 445.5,231.5 445.5,251.5 485.5,251.5" fill="none" stroke="#1a9090" stroke-width="1" stroke-linejoin="round" />
<polyline points="375.5,241.5 435.5,241.5 435.5,261.5 485.5,261.5" fill="none" stroke="#1a9090" stroke-width="1" stroke-linejoin="round" />
<polyline points="375.5,251.5 425.5,251.5 425.5,271.5 485.5,271.5" fill="none" stroke="#1a9090" stroke-width="1" stroke-linejoin="round" />
<polyline points="375.5,261.5 415.5,261.5 415.5,281.5 485.5,281.5" fill="none" stroke="#1a9090" stroke-width="1" stroke-linejoin="round" />
<line x1="375.5" y1="271.5" x2="405.5" y2="271.5" stroke="#1a9090" stroke-width="1"/>
<line x1="375.5" y1="281.5" x2="405.5" y2="281.5" stroke="#1a9090" stroke-width="1"/>
<line x1="375.5" y1="291.5" x2="405.5" y2="291.5" stroke="#1a9090" stroke-width="1"/>
<line x1="375.5" y1="301.5" x2="405.5" y2="301.5" stroke="#1a9090" stroke-width="1"/>
<line x1="455" y1="231.5" x2="485.5" y2="231.5" stroke="#1a9090" stroke-width="1"/>
<text x="456.3" y="230" fill="#1f9892" text-anchor="start" class="t">PB2</text>
<line x1="455" y1="241.5" x2="485.5" y2="241.5" stroke="#1a9090" stroke-width="1"/>
<text x="456.3" y="240" fill="#1f9892" text-anchor="start" class="t">PB3</text>
<polyline points="315,351.5 465.5,351.5 465.5,391.5 485.5,391.5" fill="none" stroke="#1a9090" stroke-width="1" stroke-linejoin="round" />
<line x1="336.05" y1="348.60" x2="338.55" y2="344.80" stroke="#1f9892" stroke-width="0.7"/>
<line x1="432.05" y1="348.60" x2="434.55" y2="344.80" stroke="#1f9892" stroke-width="0.7"/>
<text x="322.3" y="350" fill="#1f9892" text-anchor="start" class="t">PD0_WATCHDOG_T1_490Hz</text>
<text x="322.3" y="400" fill="#1f9892" text-anchor="start" class="t">PD1/T3OUT_PWM_19.7kHz</text>
<line x1="435" y1="411.5" x2="485.5" y2="411.5" stroke="#1a9090" stroke-width="1"/>
<line x1="435" y1="421.5" x2="485.5" y2="421.5" stroke="#1a9090" stroke-width="1"/>
<line x1="435" y1="431.5" x2="485.5" y2="431.5" stroke="#1a9090" stroke-width="1"/>
<line x1="435" y1="441.5" x2="485.5" y2="441.5" stroke="#1a9090" stroke-width="1"/>
<line x1="435" y1="451.5" x2="485.5" y2="451.5" stroke="#1a9090" stroke-width="1"/>
<line x1="435" y1="461.5" x2="485.5" y2="461.5" stroke="#1a9090" stroke-width="1"/>
<text x="439.3" y="420" fill="#1f9892" text-anchor="start" class="t">DE</text>
<text x="431.3" y="430" fill="#1f9892" text-anchor="start" class="t">PD4/RxD1</text>
<text x="431.3" y="440" fill="#1f9892" text-anchor="start" class="t">PD5/TxD1</text>
<line x1="435" y1="481.5" x2="485.5" y2="481.5" stroke="#1a9090" stroke-width="1"/>
<line x1="450.05" y1="478.60" x2="452.55" y2="474.80" stroke="#1f9892" stroke-width="0.7"/>
<text x="436.3" y="480" fill="#1f9892" text-anchor="start" class="t">PE0</text>
<line x1="435" y1="491.5" x2="485.5" y2="491.5" stroke="#1a9090" stroke-width="1"/>
<text x="436.3" y="490" fill="#1f9892" text-anchor="start" class="t">PE1</text>
<line x1="435" y1="501.5" x2="485.5" y2="501.5" stroke="#1a9090" stroke-width="1"/>
<text x="436.3" y="500" fill="#1f9892" text-anchor="start" class="t">PE2</text>
<line x1="435" y1="511.5" x2="485.5" y2="511.5" stroke="#1a9090" stroke-width="1"/>
<text x="436.3" y="510" fill="#1f9892" text-anchor="start" class="t">PE3</text>
<line x1="435" y1="521.5" x2="485.5" y2="521.5" stroke="#1a9090" stroke-width="1"/>
<text x="436.3" y="520" fill="#1f9892" text-anchor="start" class="t">PE4</text>
<line x1="435" y1="531.5" x2="485.5" y2="531.5" stroke="#1a9090" stroke-width="1"/>
<text x="436.3" y="530" fill="#1f9892" text-anchor="start" class="t">PE5</text>
<line x1="435" y1="541.5" x2="485.5" y2="541.5" stroke="#1a9090" stroke-width="1"/>
<text x="436.3" y="540" fill="#1f9892" text-anchor="start" class="t">PE6</text>
<line x1="435" y1="551.5" x2="485.5" y2="551.5" stroke="#1a9090" stroke-width="1"/>
<text x="436.3" y="550" fill="#1f9892" text-anchor="start" class="t">PE7</text>
<polygon points="246,72 366,72 376,82 376,141.8 366,151.8 246,151.8 236,141.8 236,82" fill="none" stroke="#585c57" stroke-width="4" stroke-linejoin="round" />
<text x="290.90000000000003" y="90" fill="#1b5054" stroke="#1b5054" text-anchor="start" class="t">ACCELERATOR</text>
<text x="246.3" y="110" fill="#1f9892" text-anchor="start" class="t">V33</text>
<text x="316.3" y="110" fill="#1f9892" text-anchor="start" class="t">GND</text>
<line x1="305.45" y1="138.60" x2="307.95" y2="134.80" stroke="#1f9892" stroke-width="0.7"/>
<line x1="335.45" y1="138.60" x2="337.95" y2="134.80" stroke="#1f9892" stroke-width="0.7"/>
<text x="291.7" y="140" fill="#1f9892" text-anchor="start" class="t">PB0/ANA0</text>
<rect x="275.5" y="106.5" width="30" height="10" fill="none" stroke="#1b5658" stroke-width="1" stroke-linejoin="round"/>
<line x1="265" y1="111.5" x2="275.5" y2="111.5" stroke="#1b5658" stroke-width="1"/>
<line x1="305.5" y1="111.5" x2="315.5" y2="111.5" stroke="#1b5658" stroke-width="1"/>
<line x1="285.5" y1="116.5" x2="285.5" y2="131.5" stroke="#1b5658" stroke-width="1"/>
<line x1="285.5" y1="116.5" x2="298.5" y2="103.5" stroke="#1b5658" stroke-width="1"/>
<line x1="296" y1="101" x2="301" y2="106" stroke="#1b5658" stroke-width="1"/>
<rect x="16" y="231.9" width="289.7" height="19.7" fill="none" stroke="#585c57" stroke-width="3.8" stroke-linejoin="round"/>
<rect x="16" y="291.9" width="289.7" height="19.7" fill="none" stroke="#585c57" stroke-width="3.8" stroke-linejoin="round"/>
<polyline points="277.5,232 296,211.5 327.5,211.5" fill="none" stroke="#585c57" stroke-width="3.8" stroke-linejoin="round" />
<polyline points="277.5,292 296,271.5 327.5,271.5" fill="none" stroke="#585c57" stroke-width="3.8" stroke-linejoin="round" />
<text x="27" y="249" fill="#96663a" text-anchor="start" class="b">The Current sense resistor, A/V conv.</text>
<text x="70" y="305" fill="#96663a" text-anchor="start" class="b" style="letter-spacing:0.53px">The Voltage Measurement</text>
<polygon points="236,372 306,372 316,382 316,411 306,421.5 236,421.5 226,411 226,382" fill="none" stroke="#585c57" stroke-width="4" stroke-linejoin="round" />
<text x="236.3" y="399" fill="#96663a" text-anchor="start" class="b">PWM (Outp)</text>
<line x1="314.5" y1="401.5" x2="485.5" y2="401.5" stroke="#1a9090" stroke-width="1"/>
<rect x="306" y="562" width="179.5" height="49" fill="none" stroke="#585c57" stroke-width="4" stroke-linejoin="round"/>
<text x="313" y="578.5" fill="#96663a" text-anchor="start" class="b">Display ITRON Noritake</text>
<line x1="354.69" y1="597.08" x2="357.81" y2="592.33" stroke="#96663a" stroke-width="0.7"/>
<line x1="362.19" y1="597.08" x2="365.31" y2="592.33" stroke="#96663a" stroke-width="0.7"/>
<text x="330" y="598.5" fill="#96663a" text-anchor="start" class="b">CU20045SCPB-W5J</text>
<line x1="426" y1="491.5" x2="426" y2="562" stroke="#585c57" stroke-width="3.7"/>
<line x1="426" y1="491.5" x2="436" y2="481.5" stroke="#585c57" stroke-width="3.7"/>
<line x1="426" y1="501.5" x2="436" y2="491.5" stroke="#585c57" stroke-width="3.7"/>
<line x1="426" y1="511.5" x2="436" y2="501.5" stroke="#585c57" stroke-width="3.7"/>
<line x1="426" y1="521.5" x2="436" y2="511.5" stroke="#585c57" stroke-width="3.7"/>
<line x1="426" y1="531.5" x2="436" y2="521.5" stroke="#585c57" stroke-width="3.7"/>
<line x1="426" y1="541.5" x2="436" y2="531.5" stroke="#585c57" stroke-width="3.7"/>
<line x1="426" y1="551.5" x2="436" y2="541.5" stroke="#585c57" stroke-width="3.7"/>
<line x1="426" y1="561.5" x2="436" y2="551.5" stroke="#585c57" stroke-width="3.7"/>
<line x1="346.2" y1="151.5" x2="346.2" y2="214" stroke="#585c57" stroke-width="3.8"/>
</svg>
</body></html>
